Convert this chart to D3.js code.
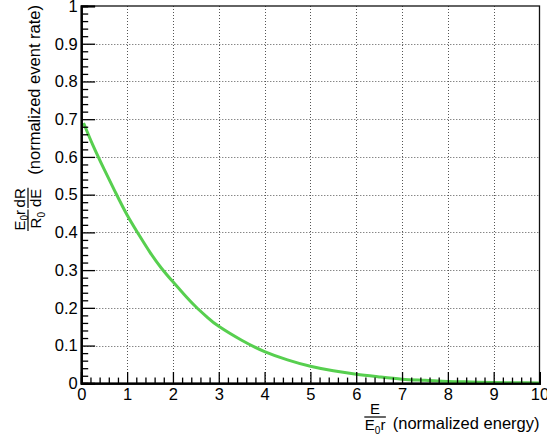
<!DOCTYPE html>
<html>
<head>
<meta charset="utf-8">
<script src="https://cdn.jsdelivr.net/npm/d3@7"></script>
<style>
  html, body { margin: 0; padding: 0; background: #fff; }
  svg { display: block; }
  text { font-family: "Liberation Sans", Arial, Helvetica, sans-serif; fill: #000; }
</style>
</head>
<body>
<svg id="chart" width="547" height="441"></svg>
<script>
// ---- data ----
const energy = [0.05, 0.25, 0.5, 0.75, 1, 1.25, 1.5, 1.75, 2, 2.25, 2.5, 2.75, 3, 3.5, 4, 4.5, 5, 5.5, 6, 6.5, 7, 7.5, 8, 8.5, 9, 9.5, 10];
const rate   = [0.690, 0.632, 0.567, 0.505, 0.446, 0.395, 0.347, 0.305, 0.269, 0.235, 0.203, 0.175, 0.151, 0.114, 0.084, 0.062, 0.045, 0.033, 0.024, 0.017, 0.011, 0.008, 0.005, 0.0035, 0.002, 0.0015, 0.001];
const xTickValues = [0, 1, 2, 3, 4, 5, 6, 7, 8, 9, 10];
const yTickValues = [0, 0.1, 0.2, 0.3, 0.4, 0.5, 0.6, 0.7, 0.8, 0.9, 1];
const xTitleText = "(normalized energy)";
const yTitleText = "(normalized event rate)";

// ---- layout ----
const L = 81.3, R = 539.5, T = 6, B = 383.3;
const svg = d3.select("#chart");
const x = d3.scaleLinear().domain([0, 10]).range([L, R]);
const y = d3.scaleLinear().domain([0, 1]).range([B, T]);
const FS = 16.5;

// grid
const grid = svg.append("g").attr("stroke", "#555").attr("stroke-width", 1).attr("stroke-dasharray", "1,2").attr("fill", "none");
grid.selectAll("line.gx").data(xTickValues.filter(d => d > 0 && d < 10)).join("line")
  .attr("x1", d => Math.round(x(d)) + 0.5).attr("x2", d => Math.round(x(d)) + 0.5)
  .attr("y1", T).attr("y2", B);
grid.selectAll("line.gy").data(yTickValues.filter(d => d > 0 && d < 1)).join("line")
  .attr("y1", d => Math.round(y(d)) + 0.5).attr("y2", d => Math.round(y(d)) + 0.5)
  .attr("x1", L).attr("x2", R);

// frame
svg.append("rect").attr("x", L).attr("y", T).attr("width", R - L).attr("height", B - T)
  .attr("fill", "none").attr("stroke", "#111").attr("stroke-width", 1.3);

// curve
const line = d3.line().x((d, i) => x(energy[i])).y(d => y(d)).curve(d3.curveNatural);
svg.append("path").datum(rate).attr("d", line)
  .attr("fill", "none").attr("stroke", "#57cf4f").attr("stroke-width", 3);

// axes
const fmt = d => (Number.isInteger(d) ? String(d) : d3.format(".1f")(d));
const xMinor = d3.range(0, 50.5, 1).map(v => v / 5).filter(v => !Number.isInteger(v));
const yMinor = d3.range(0, 50.5, 1).map(v => v / 50).filter(v => Math.abs(v * 10 - Math.round(v * 10)) > 1e-6);

const gx = svg.append("g").attr("transform", `translate(0,${B})`)
  .call(d3.axisBottom(x).tickValues(xTickValues).tickSize(-11.3).tickPadding(4.5).tickFormat(fmt));
const gxm = svg.append("g").attr("transform", `translate(0,${B})`)
  .call(d3.axisBottom(x).tickValues(xMinor).tickSize(-5.7).tickFormat(""));
const gy = svg.append("g").attr("transform", `translate(${L},0)`)
  .call(d3.axisLeft(y).tickValues(yTickValues).tickSize(-13.8).tickPadding(3.5).tickFormat(fmt));
const gym = svg.append("g").attr("transform", `translate(${L},0)`)
  .call(d3.axisLeft(y).tickValues(yMinor).tickSize(-6.9).tickFormat(""));
[gx, gxm, gy, gym].forEach(g => {
  g.select(".domain").attr("stroke", "#000").attr("stroke-width", 2);
  g.selectAll(".tick line").attr("stroke", "#000").attr("stroke-width", 1.3);
  g.selectAll(".tick text").attr("font-size", FS).attr("font-family", '"Liberation Sans", Arial, sans-serif').attr("fill", "#000");
});

// fraction helper: parts = [[text, isSub], ...]
const FF = 15, SF = 10, SUBSHIFT = 3.5;
function addParts(t, parts) {
  let cur = 0;
  parts.forEach(([s, sub]) => {
    const target = sub ? SUBSHIFT : 0;
    t.append("tspan").text(s).attr("font-size", sub ? SF : FF).attr("dy", target - cur);
    cur = target;
  });
}
function fraction(g, x0, num, den) {
  const tn = g.append("text").attr("y", -15).attr("font-size", FF);
  addParts(tn, num);
  const td = g.append("text").attr("y", 1.5).attr("font-size", FF);
  addParts(td, den);
  const wn = tn.node().getComputedTextLength(), wd = td.node().getComputedTextLength();
  const w = Math.max(wn, wd) + 1;
  tn.attr("x", x0 + (w - wn) / 2);
  td.attr("x", x0 + (w - wd) / 2);
  g.append("line").attr("x1", x0).attr("x2", x0 + w).attr("y1", -11.5).attr("y2", -11.5)
    .attr("stroke", "#000").attr("stroke-width", 1.2);
  return w;
}

// x title
const xt = svg.append("g").attr("transform", `translate(0,428.5)`);
xt.append("text").attr("x", R).attr("y", 0).attr("text-anchor", "end").attr("font-size", FS).text(xTitleText);
fraction(xt, 364.3, [["E", false]], [["E", false], ["0", true], ["r", false]]);

// y title (rotated)
const yt = svg.append("g").attr("transform", `translate(39.5,233) rotate(-90)`);
yt.append("text").attr("x", 233 - T + 1).attr("y", 0).attr("text-anchor", "end").attr("font-size", FS).text(yTitleText);
const w1 = fraction(yt, 2, [["E", false], ["0", true], ["r", false]], [["R", false], ["0", true]]);
fraction(yt, 2 + w1 + 1.5, [["dR", false]], [["dE", false]]);
</script>
</body>
</html>
